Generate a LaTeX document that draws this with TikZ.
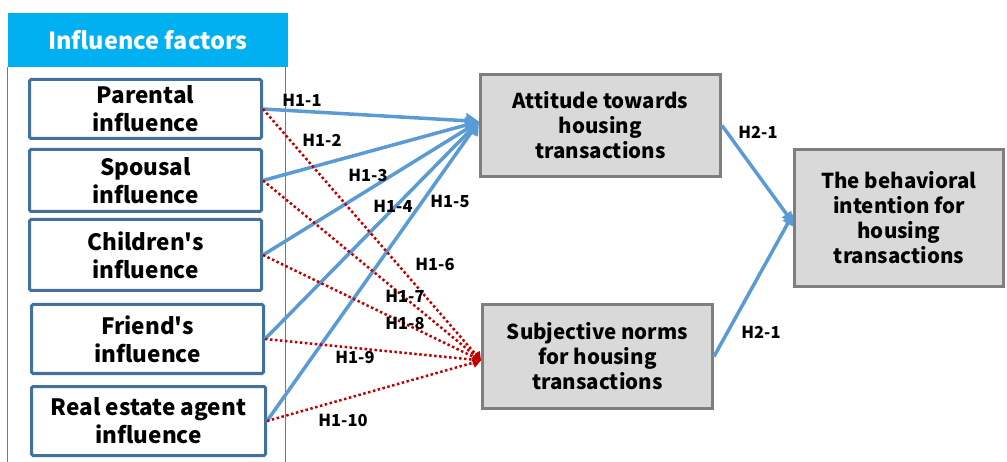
\documentclass[tikz,border=0pt]{standalone}
\usepackage{fontspec}
\setmainfont{Noto Sans CJK KR}[Ligatures=TeXOff]
\usetikzlibrary{arrows.meta}
\definecolor{headcyan}{HTML}{00B0F0}
\definecolor{factorblue}{HTML}{41719C}
\definecolor{panelblue}{HTML}{4F81BD}
\definecolor{linkblue}{HTML}{5B9BD5}
\definecolor{linkred}{HTML}{C00000}
\definecolor{boxgray}{HTML}{D9D9D9}
\definecolor{edgegray}{HTML}{7F7F7F}
\tikzset{
  factor/.style={draw=factorblue, line width=3pt, fill=white, rounded corners=1.5pt,
    align=center, inner sep=0pt, font=\bfseries\fontsize{22.5}{28}\selectfont},
  concept/.style={draw=edgegray, line width=3pt, fill=boxgray, align=center,
    inner sep=0pt, font=\bfseries\fontsize{20.5}{25}\selectfont},
  hyp/.style={font=\bfseries\fontsize{16.5}{18}\selectfont},
  bluelink/.style={draw=linkblue, line width=3.5pt},
  redlink/.style={draw=linkred, line width=2.5pt, dash pattern=on 2.5pt off 2.5pt},
}
\begin{document}
\begin{tikzpicture}[x=1pt, y=-1pt]
    \useasboundingbox (0,0) rectangle (1007,462);
    % left panel
    \node[fill=headcyan, text=white, minimum width=280pt, minimum height=54pt, inner sep=0pt,
      font=\bfseries\fontsize{23.5}{26}\selectfont] (head) at (148,40) {Influence factors};
    \draw[panelblue, line width=1pt] (head.south west) -- ++(0,410)
      (head.south east) ++(-3,0) -- ++(0,410);
    % factors
    \node[factor, minimum width=232pt, minimum height=59pt] (par) at (145.5,109) {Parental\\influence};
    \node[factor, minimum width=232pt, minimum height=62pt] (spo) at (145.5,180.5) {Spousal\\influence};
    \node[factor, minimum width=232pt, minimum height=71pt] (chi) at (145.5,255) {Children's\\influence};
    \node[factor, minimum width=232pt, minimum height=69pt] (fri) at (147.5,339) {Friend's\\influence};
    \node[factor, minimum width=234pt, minimum height=69pt] (rea) at (148.5,421) {Real estate agent\\influence};
    % mediators and outcome
    \node[concept, minimum width=240pt, minimum height=102pt] (att) at (600.5,125.5) {Attitude towards\\housing\\transactions};
    \node[concept, minimum width=230pt, minimum height=104pt] (sub) at (597.5,356.5) {Subjective norms\\for housing\\transactions};
    \node[concept, minimum width=209pt, minimum height=137pt] (beh) at (899,218) {The behavioral\\intention for\\housing\\transactions};
    % H1: solid paths to attitude
    \foreach \f in {par,spo,chi,fri,rea}
      \draw[bluelink, -{Triangle[length=13pt,width=15pt]}] (\f.east) -- ([yshift=4pt]att.west);
    % H1: dotted paths to subjective norms
    \foreach \f in {par,spo,chi,fri,rea}
      \draw[redlink, -{Triangle[length=8pt,width=10pt]}] (\f.east) -- ([yshift=-4pt]sub.west);
    % H2
    \draw[bluelink, -{Triangle[length=11pt,width=11pt]}] (att.east) -- ([yshift=-5pt]beh.west);
    \draw[bluelink, -{Triangle[length=11pt,width=11pt]}] (sub.east) -- ([yshift=4pt]beh.west);
    % labels
    \node[hyp] (h1) at (302,100) {H1-1};
    \node[hyp] (h2) at (322,140) {H1-2};
    \node[hyp] (h3) at (368,175) {H1-3};
    \node[hyp] (h4) at (393,206) {H1-4};
    \node[hyp] (h5) at (450,201) {H1-5};
    \node[hyp] (h6) at (435,264) {H1-6};
    \node[hyp] (h7) at (405,296) {H1-7};
    \node[hyp] (h8) at (405,323) {H1-8};
    \node[hyp] (h9) at (355,357) {H1-9};
    \node[hyp] (h10) at (343,420) {H1-10};
    \node[hyp] (g1) at (758,132) {H2-1};
    \node[hyp] (g2) at (761,332) {H2-1};
  \end{tikzpicture}
\end{document}
